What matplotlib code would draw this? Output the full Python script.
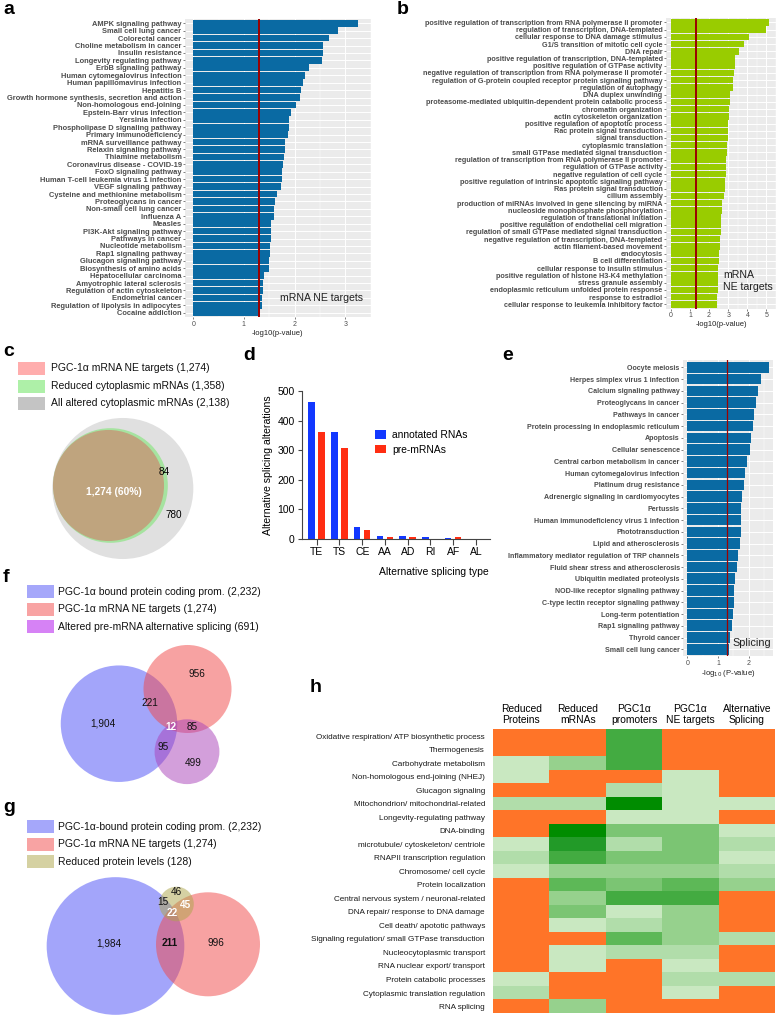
import matplotlib
matplotlib.use('Agg')
import matplotlib.pyplot as plt
import numpy as np
from matplotlib.patches import Circle, Rectangle
from matplotlib.colors import ListedColormap

plt.rcParams['font.family'] = ['Liberation Sans', 'DejaVu Sans']

# ---------------- data ----------------
a_terms = ["AMPK signaling pathway", "Small cell lung cancer", "Colorectal cancer",
           "Choline metabolism in cancer", "Insulin resistance", "Longevity regulating pathway",
           "ErbB signaling pathway", "Human cytomegalovirus infection",
           "Human papillomavirus infection", "Hepatitis B",
           "Growth hormone synthesis, secretion and action", "Non-homologous end-joining",
           "Epstein-Barr virus infection", "Yersinia infection",
           "Phospholipase D signaling pathway", "Primary immunodeficiency",
           "mRNA surveillance pathway", "Relaxin signaling pathway", "Thiamine metabolism",
           "Coronavirus disease - COVID-19", "FoxO signaling pathway",
           "Human T-cell leukemia virus 1 infection", "VEGF signaling pathway",
           "Cysteine and methionine metabolism", "Proteoglycans in cancer",
           "Non-small cell lung cancer", "Influenza A", "Measles", "PI3K-Akt signaling pathway",
           "Pathways in cancer", "Nucleotide metabolism", "Rap1 signaling pathway",
           "Glucagon signaling pathway", "Biosynthesis of amino acids",
           "Hepatocellular carcinoma", "Amyotrophic lateral sclerosis",
           "Regulation of actin cytoskeleton", "Endometrial cancer",
           "Regulation of lipolysis in adipocytes", "Cocaine addiction"]
a_vals = [3.25, 2.85, 2.69, 2.57, 2.56, 2.54, 2.29, 2.21, 2.16, 2.12, 2.10, 2.02, 1.94, 1.90,
          1.89, 1.87, 1.81, 1.81, 1.79, 1.78, 1.76, 1.75, 1.74, 1.65, 1.61, 1.60, 1.59, 1.54,
          1.54, 1.53, 1.51, 1.51, 1.50, 1.49, 1.40, 1.38, 1.37, 1.35, 1.35, 1.32]

b_terms = ["positive regulation of transcription from RNA polymerase II promoter",
           "regulation of transcription, DNA-templated",
           "cellular response to DNA damage stimulus",
           "G1/S transition of mitotic cell cycle", "DNA repair",
           "positive regulation of transcription, DNA-templated",
           "positive regulation of GTPase activity",
           "negative regulation of transcription from RNA polymerase II promoter",
           "regulation of G-protein coupled receptor protein signaling pathway",
           "regulation of autophagy", "DNA duplex unwinding",
           "proteasome-mediated ubiquitin-dependent protein catabolic process",
           "chromatin organization", "actin cytoskeleton organization",
           "positive regulation of apoptotic process", "Rac protein signal transduction",
           "signal transduction", "cytoplasmic translation",
           "small GTPase mediated signal transduction",
           "regulation of transcription from RNA polymerase II promoter",
           "regulation of GTPase activity", "negative regulation of cell cycle",
           "positive regulation of intrinsic apoptotic signaling pathway",
           "Ras protein signal transduction", "cilium assembly",
           "production of miRNAs involved in gene silencing by miRNA",
           "nucleoside monophosphate phosphorylation",
           "regulation of translational initiation",
           "positive regulation of endothelial cell migration",
           "regulation of small GTPase mediated signal transduction",
           "negative regulation of transcription, DNA-templated",
           "actin filament-based movement", "endocytosis", "B cell differentiation",
           "cellular response to insulin stimulus",
           "positive regulation of histone H3-K4 methylation", "stress granule assembly",
           "endoplasmic reticulum unfolded protein response", "response to estradiol",
           "cellular response to leukemia inhibitory factor"]
b_vals = [5.11, 4.96, 4.10, 3.83, 3.59, 3.38, 3.37, 3.32, 3.26, 3.23, 3.11, 3.08, 3.06, 3.05,
          3.01, 3.01, 2.99, 2.96, 2.94, 2.91, 2.91, 2.86, 2.82, 2.81, 2.77, 2.67, 2.65, 2.63,
          2.63, 2.62, 2.56, 2.55, 2.53, 2.50, 2.48, 2.46, 2.46, 2.45, 2.43, 2.39]

e_terms = ["Oocyte meiosis", "Herpes simplex virus 1 infection", "Calcium signaling pathway",
           "Proteoglycans in cancer", "Pathways in cancer",
           "Protein processing in endoplasmic reticulum", "Apoptosis", "Cellular senescence",
           "Central carbon metabolism in cancer", "Human cytomegalovirus infection",
           "Platinum drug resistance", "Adrenergic signaling in cardiomyocytes", "Pertussis",
           "Human immunodeficiency virus 1 infection", "Phototransduction",
           "Lipid and atherosclerosis", "Inflammatory mediator regulation of TRP channels",
           "Fluid shear stress and atherosclerosis", "Ubiquitin mediated proteolysis",
           "NOD-like receptor signaling pathway", "C-type lectin receptor signaling pathway",
           "Long-term potentiation", "Rap1 signaling pathway", "Thyroid cancer",
           "Small cell lung cancer"]
e_vals = [2.64, 2.39, 2.31, 2.23, 2.17, 2.12, 2.07, 2.05, 1.94, 1.88, 1.84, 1.78, 1.75, 1.75,
          1.73, 1.70, 1.64, 1.60, 1.55, 1.53, 1.51, 1.50, 1.46, 1.39, 1.36]

d_types = ["TE", "TS", "CE", "AA", "AD", "RI", "AF", "AL"]
d_annotated = [462, 363, 42, 9, 9, 6, 5, 0]
d_pre = [360, 306, 32, 8, 8, 1, 6, 0]

c_sets = {"PGC-1α mRNA NE targets": 1274, "Reduced cytoplasmic mRNAs": 1358,
          "All altered cytoplasmic mRNAs": 2138}
c_regions = ["1,274 (60%)", "84", "780"]

f_sets = {"PGC-1α bound protein coding prom.": 2232, "PGC-1α mRNA NE targets": 1274,
          "Altered pre-mRNA alternative splicing": 691}
f_regions = {"A": "1,904", "B": "956", "AB": "221", "ABC": "12", "BC": "85", "AC": "95", "C": "499"}

g_sets = {"PGC-1α-bound protein coding prom.": 2232, "PGC-1α mRNA NE targets": 1274,
          "Reduced protein levels": 128}
g_regions = {"A": "1,984", "AB": "211", "B": "996", "C": "46", "AC": "15", "BC": "45", "ABC": "22"}

h_cols = ["Reduced\nProteins", "Reduced\nmRNAs", "PGC1α\npromoters", "PGC1α\nNE targets",
          "Alternative\nSplicing"]
h_rows = ["Oxidative respiration/ ATP biosynthetic process", "Thermogenesis",
          "Carbohydrate metabolism", "Non-homologous end-joining (NHEJ)", "Glucagon signaling",
          "Mitochondrion/ mitochondrial-related", "Longevity-regulating pathway", "DNA-binding",
          "microtubule/ cytoskeleton/ centriole", "RNAPII transcription regulation",
          "Chromosome/ cell cycle", "Protein localization",
          "Central nervous system / neuronal-related", "DNA repair/ response to DNA damage",
          "Cell death/ apototic pathways", "Signaling regulation/ small GTPase transduction",
          "Nucleocytoplasmic transport", "RNA nuclear export/ transport",
          "Protein catabolic processes", "Cytoplasmic translation regulation", "RNA splicing"]
# 0 = not enriched (orange), 1..8 = increasing enrichment (green)
h_levels = [[0, 0, 6, 0, 0],
            [0, 0, 6, 0, 0],
            [1, 3, 6, 0, 0],
            [1, 0, 0, 1, 0],
            [0, 0, 2, 1, 0],
            [2, 2, 8, 1, 1],
            [0, 0, 1, 1, 0],
            [0, 8, 4, 4, 1],
            [1, 7, 2, 4, 2],
            [2, 6, 4, 4, 1],
            [1, 3, 3, 3, 2],
            [0, 5, 4, 5, 3],
            [0, 3, 6, 6, 0],
            [0, 4, 1, 3, 0],
            [0, 1, 2, 3, 0],
            [0, 0, 5, 3, 2],
            [0, 1, 2, 2, 0],
            [0, 1, 0, 1, 0],
            [1, 0, 0, 2, 2],
            [2, 0, 0, 1, 0],
            [0, 3, 0, 0, 0]]

# ---------------- layout helpers ----------------
W, H = 777, 1019


def rect(l, t, r, b):
    return [l / W, 1 - b / H, (r - l) / W, (b - t) / H]


fig = plt.figure(figsize=(W / 100, H / 100), dpi=100)
ov = fig.add_axes([0, 0, 1, 1])
ov.set_xlim(0, W)
ov.set_ylim(H, 0)
ov.axis('off')

SIG = -np.log10(0.05)


def ggbar(r, terms, vals, color, ticks, fs, lw_line):
    ax = fig.add_axes(rect(*r))
    n = len(terms)
    y = np.arange(n)
    vmax = max(vals)
    ax.set_facecolor('#ebebeb')
    ax.set_axisbelow(True)
    ax.barh(y, vals, height=0.9, color=color, zorder=2)
    ax.axvline(SIG, color='#9b0000', lw=lw_line, zorder=3)
    ax.set_ylim(n - 0.4, -0.6)
    ax.set_xlim(-0.05 * vmax, 1.05 * vmax)
    ax.set_yticks(y)
    ax.set_yticklabels(terms, fontsize=fs, fontweight='bold', color='#4d4d4d')
    ax.set_xticks(ticks)
    ax.set_xticks([t + 0.5 for t in ticks], minor=True)
    ax.grid(True, which='major', axis='both', color='white', lw=0.7)
    ax.grid(True, which='minor', axis='x', color='white', lw=0.35)
    for s in ax.spines.values():
        s.set_visible(False)
    ax.tick_params(axis='y', length=1.5, width=0.5, color='#4d4d4d', pad=1)
    ax.tick_params(axis='x', which='major', length=1.5, width=0.5, color='#4d4d4d',
                   labelsize=5, labelcolor='#4d4d4d', pad=1)
    ax.tick_params(axis='x', which='minor', length=0)
    return ax


# ---------------- panel a ----------------
axa = ggbar((185, 18.85, 370.5, 317.2), a_terms, a_vals, '#0a6aa3', [0, 1, 2, 3], 5.4, 1.4)
axa.set_xlabel('-log10(p-value)', fontsize=5.5, color='#222222', labelpad=1.5)
axa.text(0.51, 0.065, 'mRNA NE targets', transform=axa.transAxes, fontsize=7.6,
         color='#222222', va='center', ha='left', zorder=5)

# ---------------- panel b ----------------
axb = ggbar((666, 18, 776, 308.6), b_terms, b_vals, '#99cc00', [0, 1, 2, 3, 4, 5], 5.2, 1.4)
axb.set_xlabel('-log10(p-value)', fontsize=5.5, color='#222222', labelpad=1.5)
axb.text(0.52, 0.095, 'mRNA\nNE targets', transform=axb.transAxes, fontsize=7.6,
         color='#222222', va='center', ha='left', linespacing=1.25, zorder=5)

# ---------------- panel e ----------------
axe = ggbar((683.2, 360.3, 772.6, 656.3), e_terms, e_vals, '#0a6aa3', [0, 1, 2], 5.1, 0.9)
axe.set_xlabel(r'-log$_{10}$ (P-value)', fontsize=5.5, color='#222222', labelpad=1)
axe.text(0.55, 0.045, 'Splicing', transform=axe.transAxes, fontsize=7.8,
         color='#222222', va='center', ha='left', zorder=5)

# ---------------- panel d ----------------
axd = fig.add_axes(rect(301.7, 391, 490, 539))
x = np.arange(len(d_types))
axd.bar(x - 0.22, d_annotated, 0.29, color='#1238ff', label='annotated RNAs')
axd.bar(x + 0.22, d_pre, 0.29, color='#ff2d12', label='pre-mRNAs')
axd.set_xlim(-0.66, len(d_types) - 1 + 0.62)
axd.set_ylim(0, 500)
axd.set_yticks(range(0, 501, 100))
axd.set_xticks(x)
axd.set_xticklabels(d_types)
for s in ['top', 'right']:
    axd.spines[s].set_visible(False)
for s in ['left', 'bottom']:
    axd.spines[s].set_color('#444444')
    axd.spines[s].set_linewidth(0.8)
axd.tick_params(axis='both', labelsize=7.5, color='#444444', width=0.8)
axd.tick_params(axis='y', length=3, pad=2)
axd.tick_params(axis='x', length=4, pad=2)
axd.set_ylabel('Alternative splicing alterations', fontsize=7.6, labelpad=3)
ov.text(434, 572, 'Alternative splicing type', fontsize=7.5, ha='center', va='center')
axd.legend(loc='upper left', bbox_to_anchor=(375 / W, 1 - 430 / H),
           bbox_transform=fig.transFigure, frameon=False, fontsize=7.4,
           handlelength=1.1, handleheight=0.9, handletextpad=0.6, labelspacing=0.45,
           borderaxespad=0, borderpad=0)

# ---------------- panel h ----------------
axh = fig.add_axes(rect(493.3, 729.3, 775, 1013.3))
greens = ['#ff7428', '#c9e8c1', '#b1ddaa', '#96d18d', '#7bc573', '#5db857', '#43ab41',
          '#229a28', '#008c00']
axh.imshow(np.array(h_levels), cmap=ListedColormap(greens), vmin=-0.5, vmax=8.5,
           aspect='auto', interpolation='nearest')
axh.set_xticks(range(len(h_cols)))
axh.set_xticklabels(h_cols, fontsize=7.4, linespacing=1.15)
axh.xaxis.tick_top()
axh.set_yticks(range(len(h_rows)))
axh.set_yticklabels(h_rows, fontsize=5.85, color='#1a1a1a')
axh.tick_params(axis='both', length=0)
axh.tick_params(axis='y', pad=6)
axh.tick_params(axis='x', pad=3)
for s in axh.spines.values():
    s.set_visible(False)


# ---------------- venn helpers ----------------
def legend_rows(x0, xt, ys, labels, sizes, colors):
    for y, lab, n, col in zip(ys, labels, sizes, colors):
        ov.add_patch(Rectangle((x0, y - 6.5), 27, 13, fc=col, ec='none'))
        ov.text(xt, y, f'{lab} ({n:,})', fontsize=7.5, va='center', ha='left', color='#111111')


# ---------------- panel c ----------------
c_labels = list(c_sets.keys())
c_sizes = list(c_sets.values())
legend_rows(18.3, 50.7, [368.3, 386, 403.3], c_labels, c_sizes,
            ['#ffadad', '#aef0a8', '#c4c4c4'])
kc = 1.525
ov.add_patch(Circle((122.8, 488.5), kc * np.sqrt(c_sizes[2]), fc='#e0e0e0', ec='none'))
ov.add_patch(Circle((110.5, 485.5), kc * np.sqrt(c_sizes[1]) * 1.02, fc='#a6e3a0', ec='none'))
ov.add_patch(Circle((108.5, 485.5), kc * np.sqrt(c_sizes[0]) * 1.02, fc='#bfa47e', ec='none'))
ov.text(114, 492, c_regions[0], fontsize=7.4, color='white', fontweight='bold',
        ha='center', va='center')
ov.text(164, 472, c_regions[1], fontsize=7.2, ha='center', va='center')
ov.text(174, 515, c_regions[2], fontsize=7.2, ha='center', va='center')

# ---------------- panel f ----------------
f_labels = list(f_sets.keys())
f_sizes = list(f_sets.values())
legend_rows(27.3, 58.3, [591.7, 609, 626.7], f_labels, f_sizes,
            ['#a5a7fa', '#f8a3a3', '#d682f5'])
kf = 1.233
ov.add_patch(Circle((119, 723.7), kf * np.sqrt(f_sizes[0]), fc='#494df7', alpha=0.5, ec='none'))
ov.add_patch(Circle((187.5, 689), kf * np.sqrt(f_sizes[1]), fc='#f14747', alpha=0.5, ec='none'))
ov.add_patch(Circle((187, 751.7), kf * np.sqrt(f_sizes[2]), fc='#a941b9', alpha=0.5, ec='none'))
fpos = {"A": (103.3, 724), "B": (196.7, 674.3), "AB": (149.7, 703.3), "ABC": (170.7, 726.7),
        "BC": (192.3, 726.7), "AC": (162.7, 747.3), "C": (193.3, 763.3)}
for key, (px, py) in fpos.items():
    white = key == "ABC"
    ov.text(px, py, f_regions[key], fontsize=7.2, ha='center', va='center',
            color='white' if white else '#111111', fontweight='bold' if white else 'normal')

# ---------------- panel g ----------------
g_labels = list(g_sets.keys())
g_sizes = list(g_sets.values())
legend_rows(27.3, 58.3, [826.7, 844, 861.7], g_labels, g_sizes,
            ['#a5a7fa', '#f8a3a3', '#d5d1a2'])
kg = 1.457
ov.add_patch(Circle((115.5, 946), kg * np.sqrt(g_sizes[0]), fc='#494df7', alpha=0.5, ec='none'))
ov.add_patch(Circle((208, 944.3), kg * np.sqrt(g_sizes[1]), fc='#f14747', alpha=0.5, ec='none'))
ov.add_patch(Circle((176.5, 904), kg * np.sqrt(g_sizes[2]) * 1.05, fc='#ada549', alpha=0.5,
                    ec='none'))
gpos = {"A": (109.3, 943.3), "AB": (169.3, 943.3), "B": (216, 943.3), "C": (176, 891.7),
        "AC": (162.7, 902.3), "BC": (185, 905), "ABC": (172.3, 913.3)}
for key, (px, py) in gpos.items():
    white = key in ("BC", "ABC")
    bold = key in ("BC", "ABC", "AB")
    ov.text(px, py, g_regions[key], fontsize=7.2, ha='center', va='center',
            color='white' if white else '#111111', fontweight='bold' if bold else 'normal')

# ---------------- panel letters ----------------
for letter, (px, py) in {"a": (3, 9), "b": (397, 9), "c": (3, 351), "d": (243, 355),
                         "e": (502, 355), "f": (3, 577), "g": (3, 808), "h": (310, 687)}.items():
    ov.text(px, py, letter, fontsize=14, fontweight='bold', ha='left', va='center')

fig.savefig('out.png', dpi=100)
